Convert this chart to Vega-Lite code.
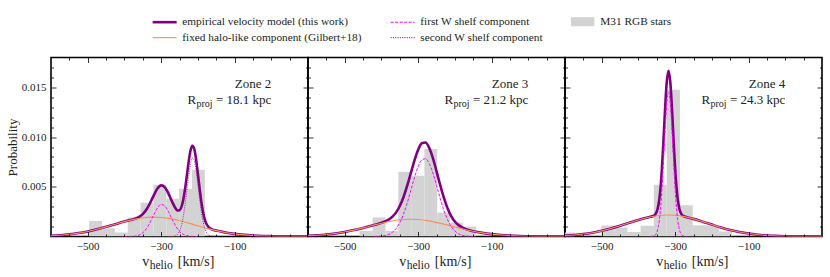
{
"$schema": "https://vega.github.io/schema/vega-lite/v6.json",
"padding": {"left": 5, "top": 15.5, "right": 5, "bottom": 5},
"config": {
 "font": "Liberation Serif",
 "view": {"stroke": "black", "strokeWidth": 1.6},
 "axis": {"labelFont": "Liberation Serif", "titleFont": "Liberation Serif", "labelColor": "#222", "titleColor": "#222", "tickColor": "black", "tickWidth": 0.8, "grid": false, "domain": false, "labelFontSize": 11},
 "text": {"font": "Liberation Serif", "color": "#222"}
},
"datasets": {
 "ann": [{"z": 2, "zone": "Zone 2", "rp": "= 18.1 kpc"}, {"z": 3, "zone": "Zone 3", "rp": "= 21.2 kpc"}, {"z": 4, "zone": "Zone 4", "rp": "= 24.3 kpc"}],
 "hist2": [{"x0": -496, "x1": -461, "p": 0.00157}, {"x0": -461, "x1": -426, "p": 0.00083}, {"x0": -426, "x1": -391, "p": 0.0004}, {"x0": -391, "x1": -356, "p": 0.0019}, {"x0": -356, "x1": -321, "p": 0.0034}, {"x0": -321, "x1": -286, "p": 0.0052}, {"x0": -286, "x1": -251, "p": 0.0038}, {"x0": -251, "x1": -216, "p": 0.0048}, {"x0": -216, "x1": -181, "p": 0.0067}],
 "hist3": [{"x0": -460, "x1": -424, "p": 0.00056}, {"x0": -424, "x1": -389, "p": 0.0019}, {"x0": -389, "x1": -354, "p": 0.00056}, {"x0": -354, "x1": -319, "p": 0.0065}, {"x0": -319, "x1": -283, "p": 0.0061}, {"x0": -283, "x1": -248, "p": 0.0088}, {"x0": -248, "x1": -213, "p": 0.0024}, {"x0": -213, "x1": -178, "p": 0.0014}, {"x0": -178, "x1": -142, "p": 0.001}],
 "hist4": [{"x0": -608, "x1": -573, "p": 0.0004}, {"x0": -501, "x1": -465, "p": 0.0011}, {"x0": -465, "x1": -430, "p": 0.0009}, {"x0": -430, "x1": -394, "p": 0.00046}, {"x0": -394, "x1": -358, "p": 0.00107}, {"x0": -358, "x1": -323, "p": 0.0052}, {"x0": -323, "x1": -287, "p": 0.01475}, {"x0": -287, "x1": -252, "p": 0.00315}, {"x0": -252, "x1": -216, "p": 0.00114}, {"x0": -216, "x1": -180, "p": 0.0011}, {"x0": -180, "x1": -145, "p": 0.0005}],
 "h2": [{"v": -600, "p": 0.0000764}, {"v": -575, "p": 0.0001328}, {"v": -550, "p": 0.0002192}, {"v": -525, "p": 0.0003434}, {"v": -500, "p": 0.0005113}, {"v": -475, "p": 0.0007225}, {"v": -450, "p": 0.00097}, {"v": -425, "p": 0.0012365}, {"v": -400, "p": 0.0014968}, {"v": -375, "p": 0.0017209}, {"v": -350, "p": 0.0018788}, {"v": -325, "p": 0.001948}, {"v": -300, "p": 0.001918}, {"v": -275, "p": 0.0017934}, {"v": -250, "p": 0.0015926}, {"v": -225, "p": 0.001343}, {"v": -200, "p": 0.0010756}, {"v": -175, "p": 0.000818}, {"v": -150, "p": 0.0005907}, {"v": -125, "p": 0.0004052}, {"v": -100, "p": 0.0002638}, {"v": -75, "p": 0.0001632}, {"v": -50, "p": 0.0000959}, {"v": -25, "p": 0.0000534}, {"v": 0, "p": 0.0000283}, {"v": 25, "p": 0.0000142}, {"v": 50, "p": 0.0000068}, {"v": 75, "p": 0.0000031}, {"v": 100, "p": 0.0000013}],
 "h3": [{"v": -600, "p": 0.0000682}, {"v": -575, "p": 0.0001185}, {"v": -550, "p": 0.0001956}, {"v": -525, "p": 0.0003064}, {"v": -500, "p": 0.0004562}, {"v": -475, "p": 0.0006447}, {"v": -450, "p": 0.0008655}, {"v": -425, "p": 0.0011033}, {"v": -400, "p": 0.0013356}, {"v": -375, "p": 0.0015356}, {"v": -350, "p": 0.0016765}, {"v": -325, "p": 0.0017383}, {"v": -300, "p": 0.0017115}, {"v": -275, "p": 0.0016003}, {"v": -250, "p": 0.0014211}, {"v": -225, "p": 0.0011983}, {"v": -200, "p": 0.0009598}, {"v": -175, "p": 0.0007299}, {"v": -150, "p": 0.000527}, {"v": -125, "p": 0.0003616}, {"v": -100, "p": 0.0002354}, {"v": -75, "p": 0.0001456}, {"v": -50, "p": 0.0000856}, {"v": -25, "p": 0.0000477}, {"v": 0, "p": 0.0000252}, {"v": 25, "p": 0.0000127}, {"v": 50, "p": 0.0000061}, {"v": 75, "p": 0.0000027}, {"v": 100, "p": 0.0000012}],
 "h4": [{"v": -600, "p": 0.0000851}, {"v": -575, "p": 0.0001478}, {"v": -550, "p": 0.0002439}, {"v": -525, "p": 0.0003821}, {"v": -500, "p": 0.000569}, {"v": -475, "p": 0.000804}, {"v": -450, "p": 0.0010794}, {"v": -425, "p": 0.001376}, {"v": -400, "p": 0.0016657}, {"v": -375, "p": 0.001915}, {"v": -350, "p": 0.0020908}, {"v": -325, "p": 0.0021678}, {"v": -300, "p": 0.0021344}, {"v": -275, "p": 0.0019957}, {"v": -250, "p": 0.0017722}, {"v": -225, "p": 0.0014945}, {"v": -200, "p": 0.001197}, {"v": -175, "p": 0.0009103}, {"v": -150, "p": 0.0006573}, {"v": -125, "p": 0.0004509}, {"v": -100, "p": 0.0002936}, {"v": -75, "p": 0.0001816}, {"v": -50, "p": 0.0001068}, {"v": -25, "p": 0.0000595}, {"v": 0, "p": 0.0000315}, {"v": 25, "p": 0.0000158}, {"v": 50, "p": 0.0000076}, {"v": 75, "p": 0.0000034}, {"v": 100, "p": 0.0000015}],
 "t2": [{"v": -600, "p": 0.0000764}, {"v": -575, "p": 0.0001328}, {"v": -550, "p": 0.0002192}, {"v": -525, "p": 0.0003434}, {"v": -500, "p": 0.0005113}, {"v": -475, "p": 0.0007225}, {"v": -450, "p": 0.00097}, {"v": -425, "p": 0.0012365}, {"v": -400, "p": 0.0014976}, {"v": -390, "p": 0.0015963}, {"v": -380, "p": 0.0016954}, {"v": -370, "p": 0.0018098}, {"v": -360, "p": 0.0019744}, {"v": -350, "p": 0.0022503}, {"v": -340, "p": 0.0027058}, {"v": -330, "p": 0.0033658}, {"v": -320, "p": 0.0041432}, {"v": -310, "p": 0.0048206}, {"v": -300, "p": 0.0051377}, {"v": -290, "p": 0.0049476}, {"v": -280, "p": 0.0043187}, {"v": -270, "p": 0.0034953}, {"v": -260, "p": 0.0027942}, {"v": -255, "p": 0.0026115}, {"v": -250, "p": 0.0026348}, {"v": -245, "p": 0.0029535}, {"v": -240, "p": 0.0036481}, {"v": -235, "p": 0.0047338}, {"v": -230, "p": 0.0061092}, {"v": -225, "p": 0.0075284}, {"v": -220, "p": 0.0086436}, {"v": -215, "p": 0.0091329}, {"v": -210, "p": 0.0088302}, {"v": -205, "p": 0.007805}, {"v": -200, "p": 0.006329}, {"v": -195, "p": 0.0047465}, {"v": -190, "p": 0.0033495}, {"v": -185, "p": 0.0022882}, {"v": -180, "p": 0.0015786}, {"v": -170, "p": 0.0009093}, {"v": -160, "p": 0.0006952}, {"v": -150, "p": 0.0005923}, {"v": -125, "p": 0.0004052}, {"v": -100, "p": 0.0002638}, {"v": -75, "p": 0.0001632}, {"v": -50, "p": 0.0000959}, {"v": -25, "p": 0.0000534}, {"v": 0, "p": 0.0000283}, {"v": 25, "p": 0.0000142}, {"v": 50, "p": 0.0000068}, {"v": 75, "p": 0.0000031}, {"v": 100, "p": 0.0000013}],
 "t3": [{"v": -600, "p": 0.0000682}, {"v": -575, "p": 0.0001185}, {"v": -550, "p": 0.0001956}, {"v": -525, "p": 0.0003064}, {"v": -500, "p": 0.0004562}, {"v": -475, "p": 0.0006447}, {"v": -450, "p": 0.0008655}, {"v": -425, "p": 0.0011066}, {"v": -420, "p": 0.0011566}, {"v": -410, "p": 0.0012606}, {"v": -400, "p": 0.0013755}, {"v": -390, "p": 0.0015157}, {"v": -380, "p": 0.0017077}, {"v": -370, "p": 0.0019927}, {"v": -360, "p": 0.0024254}, {"v": -350, "p": 0.0030652}, {"v": -340, "p": 0.0039527}, {"v": -330, "p": 0.0050809}, {"v": -320, "p": 0.0063691}, {"v": -310, "p": 0.0076581}, {"v": -300, "p": 0.0087333}, {"v": -290, "p": 0.0093797}, {"v": -280, "p": 0.0094511}, {"v": -270, "p": 0.008924}, {"v": -260, "p": 0.0079004}, {"v": -250, "p": 0.0065785}, {"v": -240, "p": 0.0051821}, {"v": -230, "p": 0.0039007}, {"v": -220, "p": 0.002849}, {"v": -210, "p": 0.0020601}, {"v": -200, "p": 0.0015101}, {"v": -190, "p": 0.0011442}, {"v": -180, "p": 0.000905}, {"v": -170, "p": 0.0007435}, {"v": -160, "p": 0.000627}, {"v": -150, "p": 0.0005356}, {"v": -125, "p": 0.0003621}, {"v": -100, "p": 0.0002354}, {"v": -75, "p": 0.0001456}, {"v": -50, "p": 0.0000856}, {"v": -25, "p": 0.0000477}, {"v": 0, "p": 0.0000252}, {"v": 25, "p": 0.0000127}, {"v": 50, "p": 0.0000061}, {"v": 75, "p": 0.0000027}, {"v": 100, "p": 0.0000012}],
 "t4": [{"v": -600, "p": 0.0000851}, {"v": -575, "p": 0.0001478}, {"v": -550, "p": 0.0002439}, {"v": -525, "p": 0.0003821}, {"v": -500, "p": 0.000569}, {"v": -475, "p": 0.000804}, {"v": -450, "p": 0.0010794}, {"v": -425, "p": 0.001376}, {"v": -400, "p": 0.0016657}, {"v": -375, "p": 0.001915}, {"v": -368, "p": 0.0019755}, {"v": -358, "p": 0.0021001}, {"v": -353, "p": 0.0022807}, {"v": -348, "p": 0.0027379}, {"v": -343, "p": 0.003779}, {"v": -338, "p": 0.0057574}, {"v": -333, "p": 0.0087929}, {"v": -328, "p": 0.01241}, {"v": -323, "p": 0.0154641}, {"v": -318, "p": 0.0166696}, {"v": -313, "p": 0.0154607}, {"v": -308, "p": 0.0124028}, {"v": -303, "p": 0.0087823}, {"v": -298, "p": 0.0057433}, {"v": -293, "p": 0.0037615}, {"v": -288, "p": 0.0027171}, {"v": -283, "p": 0.0022569}, {"v": -278, "p": 0.0020736}, {"v": -268, "p": 0.0019432}, {"v": -250, "p": 0.0017722}, {"v": -225, "p": 0.0014945}, {"v": -200, "p": 0.001197}, {"v": -175, "p": 0.0009103}, {"v": -150, "p": 0.0006573}, {"v": -125, "p": 0.0004509}, {"v": -100, "p": 0.0002936}, {"v": -75, "p": 0.0001816}, {"v": -50, "p": 0.0001068}, {"v": -25, "p": 0.0000595}, {"v": 0, "p": 0.0000315}, {"v": 25, "p": 0.0000158}, {"v": 50, "p": 0.0000076}, {"v": 75, "p": 0.0000034}, {"v": 100, "p": 0.0000015}],
 "a2": [{"v": -400, "p": 0.0000008}, {"v": -390, "p": 0.0000037}, {"v": -380, "p": 0.0000149}, {"v": -370, "p": 0.0000511}, {"v": -360, "p": 0.0001492}, {"v": -350, "p": 0.0003715}, {"v": -340, "p": 0.0007878}, {"v": -330, "p": 0.0014238}, {"v": -320, "p": 0.0021932}, {"v": -310, "p": 0.0028786}, {"v": -300, "p": 0.0032197}, {"v": -290, "p": 0.0030688}, {"v": -280, "p": 0.0024926}, {"v": -270, "p": 0.0017251}, {"v": -260, "p": 0.0010175}, {"v": -250, "p": 0.0005113}, {"v": -240, "p": 0.000219}, {"v": -230, "p": 0.0000799}, {"v": -220, "p": 0.0000249}, {"v": -210, "p": 0.0000066}, {"v": -200, "p": 0.0000015}],
 "b2": [{"v": -280, "p": 0.0000009}, {"v": -270, "p": 0.0000115}, {"v": -260, "p": 0.0000962}, {"v": -250, "p": 0.0005309}, {"v": -245, "p": 0.0010665}, {"v": -240, "p": 0.0019323}, {"v": -235, "p": 0.0031521}, {"v": -230, "p": 0.0046341}, {"v": -225, "p": 0.0061399}, {"v": -220, "p": 0.0073288}, {"v": -215, "p": 0.0078834}, {"v": -210, "p": 0.0076409}, {"v": -205, "p": 0.0066731}, {"v": -200, "p": 0.0052519}, {"v": -195, "p": 0.0037241}, {"v": -190, "p": 0.0023795}, {"v": -185, "p": 0.0013699}, {"v": -180, "p": 0.000711}, {"v": -170, "p": 0.0001398}, {"v": -160, "p": 0.0000182}, {"v": -150, "p": 0.0000016}],
 "a3": [{"v": -420, "p": 0.0000056}, {"v": -410, "p": 0.0000156}, {"v": -400, "p": 0.0000399}, {"v": -390, "p": 0.0000947}, {"v": -380, "p": 0.0002082}, {"v": -370, "p": 0.0004234}, {"v": -360, "p": 0.0007968}, {"v": -350, "p": 0.0013887}, {"v": -340, "p": 0.0022412}, {"v": -330, "p": 0.003348}, {"v": -320, "p": 0.0046291}, {"v": -310, "p": 0.0059252}, {"v": -300, "p": 0.0070218}, {"v": -290, "p": 0.0077032}, {"v": -280, "p": 0.0078225}, {"v": -270, "p": 0.0073547}, {"v": -260, "p": 0.0064009}, {"v": -250, "p": 0.0051575}, {"v": -240, "p": 0.0038465}, {"v": -230, "p": 0.0026557}, {"v": -220, "p": 0.001698}, {"v": -210, "p": 0.0010048}, {"v": -200, "p": 0.0005503}, {"v": -190, "p": 0.0002787}, {"v": -180, "p": 0.0001309}, {"v": -170, "p": 0.0000569}, {"v": -160, "p": 0.0000229}, {"v": -150, "p": 0.0000086}],
 "a4": [{"v": -368, "p": 0.0000025}, {"v": -358, "p": 0.000056}, {"v": -353, "p": 0.0002062}, {"v": -348, "p": 0.0006371}, {"v": -343, "p": 0.0016559}, {"v": -338, "p": 0.0036163}, {"v": -333, "p": 0.0066381}, {"v": -328, "p": 0.0102457}, {"v": -323, "p": 0.013295}, {"v": -318, "p": 0.0145}, {"v": -313, "p": 0.013295}, {"v": -308, "p": 0.0102457}, {"v": -303, "p": 0.0066381}, {"v": -298, "p": 0.0036163}, {"v": -293, "p": 0.0016559}, {"v": -288, "p": 0.0006371}, {"v": -283, "p": 0.0002062}, {"v": -278, "p": 0.000056}, {"v": -268, "p": 0.0000025}]
},
"spacing": 0,
"bounds": "flush",
"hconcat": [
 {
  "width": 257, "height": 179,
  "resolve": {"axis": {"x": "independent", "y": "independent"}},
  "layer": [
   {"data": {"name": "hist2"}, "mark": {"type": "rect", "clip": true},
    "encoding": {
     "x": {"field": "x0", "type": "quantitative", "scale": {"domain": [-600, 100], "nice": false, "zero": false}, "axis": {"orient": "bottom", "values": [-500, -300, -100], "format": "d", "tickSize": -5, "labelPadding": 8.5, "title": null, "zindex": 1}},
     "x2": {"field": "x1"},
     "y": {"field": "p", "type": "quantitative", "scale": {"domain": [0, 0.018], "nice": false, "zero": false}, "axis": {"orient": "left", "values": [0.005, 0.01, 0.015], "format": ".3f", "tickSize": -5, "labelPadding": 10, "title": "Probability", "titleFontSize": 13, "titleFontWeight": "normal", "titlePadding": 2, "zindex": 1}},
     "y2": {"datum": 0},
     "color": {"datum": "M31 RGB stars", "type": "nominal",
      "scale": {"domain": ["empirical velocity model (this work)", "fixed halo-like component (Gilbert+18)", "first W shelf component", "second W shelf component", "M31 RGB stars"], "range": ["#800080", "#f98c5c", "#ff00ff", "#a020a0", "#d3d3d3"]},
      "legend": {"orient": "none", "legendX": 108, "legendY": -41.5, "columns": 3, "title": null, "symbolSize": 256, "labelFontSize": 11.3, "labelFont": "Liberation Serif", "labelColor": "#222", "labelOffset": 12, "labelLimit": 300, "columnPadding": 26, "rowPadding": 3, "padding": 0,
       "encode": {"symbols": {"update": {
        "shape": {"signal": "datum.value === 'M31 RGB stars' ? 'M-1.4,-0.5H1.4V0.5H-1.4Z' : 'M-1.5,0H1.5'"},
        "fill": {"signal": "datum.value === 'M31 RGB stars' ? '#d3d3d3' : 'transparent'"},
        "stroke": {"signal": "datum.value === 'empirical velocity model (this work)' ? '#800080' : datum.value === 'fixed halo-like component (Gilbert+18)' ? '#f98c5c' : datum.value === 'first W shelf component' ? '#ff00ff' : datum.value === 'second W shelf component' ? '#a020a0' : 'transparent'"},
        "strokeWidth": {"signal": "datum.value === 'empirical velocity model (this work)' ? 2.6 : 1.1"},
        "strokeDash": {"signal": "datum.value === 'first W shelf component' ? [3, 1.5] : datum.value === 'second W shelf component' ? [1, 1.3] : [100, 0]"},
        "opacity": {"value": 1}
       }}}}}
    }},
   {"data": {"name": "hist2"}, "mark": {"type": "point", "opacity": 0},
    "encoding": {
     "x": {"field": "x0", "type": "quantitative", "scale": {"domain": [-600, 100], "nice": false, "zero": false}, "axis": {"orient": "bottom", "values": [-550, -450, -400, -350, -250, -200, -150, -50, 0, 50], "labels": false, "tickSize": -2.5, "title": null, "zindex": 1}},
     "y": {"field": "p", "type": "quantitative", "scale": {"domain": [0, 0.018], "nice": false, "zero": false}, "axis": {"orient": "left", "values": [0.001, 0.002, 0.003, 0.004, 0.006, 0.007, 0.008, 0.009, 0.011, 0.012, 0.013, 0.014, 0.016, 0.017], "labels": false, "tickSize": -2.5, "title": null, "zindex": 1}}
    }},
   {"data": {"name": "hist2"}, "mark": {"type": "point", "opacity": 0},
    "encoding": {
     "x": {"field": "x0", "type": "quantitative", "scale": {"domain": [-600, 100], "nice": false, "zero": false}, "axis": {"orient": "top", "values": [-500, -300, -100], "labels": false, "tickSize": -5, "title": null, "zindex": 1}},
     "y": {"field": "p", "type": "quantitative", "scale": {"domain": [0, 0.018], "nice": false, "zero": false}, "axis": {"orient": "right", "values": [0.005, 0.01, 0.015], "labels": false, "tickSize": -5, "title": null, "zindex": 1}}
    }},
   {"data": {"name": "hist2"}, "mark": {"type": "point", "opacity": 0},
    "encoding": {
     "x": {"field": "x0", "type": "quantitative", "scale": {"domain": [-600, 100], "nice": false, "zero": false}, "axis": {"orient": "top", "values": [-550, -450, -400, -350, -250, -200, -150, -50, 0, 50], "labels": false, "tickSize": -2.5, "title": null, "zindex": 1}},
     "y": {"field": "p", "type": "quantitative", "scale": {"domain": [0, 0.018], "nice": false, "zero": false}, "axis": {"orient": "right", "values": [0.001, 0.002, 0.003, 0.004, 0.006, 0.007, 0.008, 0.009, 0.011, 0.012, 0.013, 0.014, 0.016, 0.017], "labels": false, "tickSize": -2.5, "title": null, "zindex": 1}}
    }},
   {"data": {"name": "t2"}, "mark": {"type": "line", "strokeWidth": 2.6, "interpolate": "monotone", "clip": true},
    "encoding": {"x": {"field": "v", "type": "quantitative", "axis": null}, "y": {"field": "p", "type": "quantitative", "axis": null}, "color": {"datum": "empirical velocity model (this work)", "type": "nominal"}}},
   {"data": {"name": "h2"}, "mark": {"type": "line", "strokeWidth": 1.1, "interpolate": "monotone", "clip": true},
    "encoding": {"x": {"field": "v", "type": "quantitative", "axis": null}, "y": {"field": "p", "type": "quantitative", "axis": null}, "color": {"datum": "fixed halo-like component (Gilbert+18)", "type": "nominal"}}},
   {"data": {"name": "a2"}, "mark": {"type": "line", "strokeWidth": 1, "strokeDash": [3, 1.5], "interpolate": "monotone", "clip": true},
    "encoding": {"x": {"field": "v", "type": "quantitative", "axis": null}, "y": {"field": "p", "type": "quantitative", "axis": null}, "color": {"datum": "first W shelf component", "type": "nominal"}}},
   {"data": {"name": "b2"}, "mark": {"type": "line", "strokeWidth": 1, "strokeDash": [1, 1.3], "interpolate": "monotone", "clip": true},
    "encoding": {"x": {"field": "v", "type": "quantitative", "axis": null}, "y": {"field": "p", "type": "quantitative", "axis": null}, "color": {"datum": "second W shelf component", "type": "nominal"}}},
   {"data": {"name": "ann"}, "transform": [{"filter": "datum.z == 2"}],
    "layer": [
     {"mark": {"type": "text", "align": "right", "baseline": "alphabetic", "fontSize": 13}, "encoding": {"x": {"datum": 0, "type": "quantitative", "axis": null}, "y": {"datum": 0.014923, "type": "quantitative", "axis": null}, "text": {"field": "zone"}}},
     {"mark": {"type": "text", "align": "right", "baseline": "alphabetic", "fontSize": 13}, "encoding": {"x": {"datum": 0, "type": "quantitative", "axis": null}, "y": {"datum": 0.013314, "type": "quantitative", "axis": null}, "text": {"field": "rp"}}},
     {"mark": {"type": "text", "align": "right", "baseline": "alphabetic", "fontSize": 10, "dx": -58.8, "dy": 2.5}, "encoding": {"x": {"datum": 0, "type": "quantitative", "axis": null}, "y": {"datum": 0.013314, "type": "quantitative", "axis": null}, "text": {"value": "proj"}}},
     {"mark": {"type": "text", "align": "right", "baseline": "alphabetic", "fontSize": 13, "dx": -75.2}, "encoding": {"x": {"datum": 0, "type": "quantitative", "axis": null}, "y": {"datum": 0.013314, "type": "quantitative", "axis": null}, "text": {"value": "R"}}},
     {"mark": {"type": "text", "align": "left", "baseline": "alphabetic", "fontSize": 14}, "encoding": {"x": {"datum": -254.8, "type": "quantitative", "axis": null}, "y": {"datum": -0.002936, "type": "quantitative", "axis": null}, "text": {"value": "[km/s]"}}},
     {"mark": {"type": "text", "align": "right", "baseline": "alphabetic", "fontSize": 11.5, "dx": -5, "dy": 3}, "encoding": {"x": {"datum": -254.8, "type": "quantitative", "axis": null}, "y": {"datum": -0.002936, "type": "quantitative", "axis": null}, "text": {"value": "helio"}}},
     {"mark": {"type": "text", "align": "right", "baseline": "alphabetic", "fontSize": 14, "dx": -28.5}, "encoding": {"x": {"datum": -254.8, "type": "quantitative", "axis": null}, "y": {"datum": -0.002936, "type": "quantitative", "axis": null}, "text": {"value": "v"}}}
    ]}
  ]
 },
 {
  "width": 257, "height": 179,
  "resolve": {"axis": {"x": "independent", "y": "independent"}},
  "layer": [
   {"data": {"name": "hist3"}, "mark": {"type": "rect", "clip": true},
    "encoding": {
     "x": {"field": "x0", "type": "quantitative", "scale": {"domain": [-600, 100], "nice": false, "zero": false}, "axis": {"orient": "bottom", "values": [-500, -300, -100], "format": "d", "tickSize": -5, "labelPadding": 8.5, "title": null, "zindex": 1}},
     "x2": {"field": "x1"},
     "y": {"field": "p", "type": "quantitative", "scale": {"domain": [0, 0.018], "nice": false, "zero": false}, "axis": {"orient": "left", "values": [0.005, 0.01, 0.015], "labels": false, "tickSize": -5, "title": null, "zindex": 1}},
     "y2": {"datum": 0},
     "color": {"datum": "M31 RGB stars", "type": "nominal"}
    }},
   {"data": {"name": "hist3"}, "mark": {"type": "point", "opacity": 0},
    "encoding": {
     "x": {"field": "x0", "type": "quantitative", "scale": {"domain": [-600, 100], "nice": false, "zero": false}, "axis": {"orient": "bottom", "values": [-550, -450, -400, -350, -250, -200, -150, -50, 0, 50], "labels": false, "tickSize": -2.5, "title": null, "zindex": 1}},
     "y": {"field": "p", "type": "quantitative", "scale": {"domain": [0, 0.018], "nice": false, "zero": false}, "axis": {"orient": "left", "values": [0.001, 0.002, 0.003, 0.004, 0.006, 0.007, 0.008, 0.009, 0.011, 0.012, 0.013, 0.014, 0.016, 0.017], "labels": false, "tickSize": -2.5, "title": null, "zindex": 1}}
    }},
   {"data": {"name": "hist3"}, "mark": {"type": "point", "opacity": 0},
    "encoding": {
     "x": {"field": "x0", "type": "quantitative", "scale": {"domain": [-600, 100], "nice": false, "zero": false}, "axis": {"orient": "top", "values": [-500, -300, -100], "labels": false, "tickSize": -5, "title": null, "zindex": 1}},
     "y": {"field": "p", "type": "quantitative", "scale": {"domain": [0, 0.018], "nice": false, "zero": false}, "axis": {"orient": "right", "values": [0.005, 0.01, 0.015], "labels": false, "tickSize": -5, "title": null, "zindex": 1}}
    }},
   {"data": {"name": "hist3"}, "mark": {"type": "point", "opacity": 0},
    "encoding": {
     "x": {"field": "x0", "type": "quantitative", "scale": {"domain": [-600, 100], "nice": false, "zero": false}, "axis": {"orient": "top", "values": [-550, -450, -400, -350, -250, -200, -150, -50, 0, 50], "labels": false, "tickSize": -2.5, "title": null, "zindex": 1}},
     "y": {"field": "p", "type": "quantitative", "scale": {"domain": [0, 0.018], "nice": false, "zero": false}, "axis": {"orient": "right", "values": [0.001, 0.002, 0.003, 0.004, 0.006, 0.007, 0.008, 0.009, 0.011, 0.012, 0.013, 0.014, 0.016, 0.017], "labels": false, "tickSize": -2.5, "title": null, "zindex": 1}}
    }},
   {"data": {"name": "t3"}, "mark": {"type": "line", "strokeWidth": 2.6, "interpolate": "monotone", "clip": true},
    "encoding": {"x": {"field": "v", "type": "quantitative", "axis": null}, "y": {"field": "p", "type": "quantitative", "axis": null}, "color": {"datum": "empirical velocity model (this work)", "type": "nominal"}}},
   {"data": {"name": "h3"}, "mark": {"type": "line", "strokeWidth": 1.1, "interpolate": "monotone", "clip": true},
    "encoding": {"x": {"field": "v", "type": "quantitative", "axis": null}, "y": {"field": "p", "type": "quantitative", "axis": null}, "color": {"datum": "fixed halo-like component (Gilbert+18)", "type": "nominal"}}},
   {"data": {"name": "a3"}, "mark": {"type": "line", "strokeWidth": 1, "strokeDash": [3, 1.5], "interpolate": "monotone", "clip": true},
    "encoding": {"x": {"field": "v", "type": "quantitative", "axis": null}, "y": {"field": "p", "type": "quantitative", "axis": null}, "color": {"datum": "first W shelf component", "type": "nominal"}}},
   {"data": {"name": "ann"}, "transform": [{"filter": "datum.z == 3"}],
    "layer": [
     {"mark": {"type": "text", "align": "right", "baseline": "alphabetic", "fontSize": 13}, "encoding": {"x": {"datum": 0, "type": "quantitative", "axis": null}, "y": {"datum": 0.014923, "type": "quantitative", "axis": null}, "text": {"field": "zone"}}},
     {"mark": {"type": "text", "align": "right", "baseline": "alphabetic", "fontSize": 13}, "encoding": {"x": {"datum": 0, "type": "quantitative", "axis": null}, "y": {"datum": 0.013314, "type": "quantitative", "axis": null}, "text": {"field": "rp"}}},
     {"mark": {"type": "text", "align": "right", "baseline": "alphabetic", "fontSize": 10, "dx": -58.8, "dy": 2.5}, "encoding": {"x": {"datum": 0, "type": "quantitative", "axis": null}, "y": {"datum": 0.013314, "type": "quantitative", "axis": null}, "text": {"value": "proj"}}},
     {"mark": {"type": "text", "align": "right", "baseline": "alphabetic", "fontSize": 13, "dx": -75.2}, "encoding": {"x": {"datum": 0, "type": "quantitative", "axis": null}, "y": {"datum": 0.013314, "type": "quantitative", "axis": null}, "text": {"value": "R"}}},
     {"mark": {"type": "text", "align": "left", "baseline": "alphabetic", "fontSize": 14}, "encoding": {"x": {"datum": -254.8, "type": "quantitative", "axis": null}, "y": {"datum": -0.002936, "type": "quantitative", "axis": null}, "text": {"value": "[km/s]"}}},
     {"mark": {"type": "text", "align": "right", "baseline": "alphabetic", "fontSize": 11.5, "dx": -5, "dy": 3}, "encoding": {"x": {"datum": -254.8, "type": "quantitative", "axis": null}, "y": {"datum": -0.002936, "type": "quantitative", "axis": null}, "text": {"value": "helio"}}},
     {"mark": {"type": "text", "align": "right", "baseline": "alphabetic", "fontSize": 14, "dx": -28.5}, "encoding": {"x": {"datum": -254.8, "type": "quantitative", "axis": null}, "y": {"datum": -0.002936, "type": "quantitative", "axis": null}, "text": {"value": "v"}}}
    ]}
  ]
 },
 {
  "width": 257, "height": 179,
  "resolve": {"axis": {"x": "independent", "y": "independent"}},
  "layer": [
   {"data": {"name": "hist4"}, "mark": {"type": "rect", "clip": true},
    "encoding": {
     "x": {"field": "x0", "type": "quantitative", "scale": {"domain": [-600, 100], "nice": false, "zero": false}, "axis": {"orient": "bottom", "values": [-500, -300, -100], "format": "d", "tickSize": -5, "labelPadding": 8.5, "title": null, "zindex": 1}},
     "x2": {"field": "x1"},
     "y": {"field": "p", "type": "quantitative", "scale": {"domain": [0, 0.018], "nice": false, "zero": false}, "axis": {"orient": "left", "values": [0.005, 0.01, 0.015], "labels": false, "tickSize": -5, "title": null, "zindex": 1}},
     "y2": {"datum": 0},
     "color": {"datum": "M31 RGB stars", "type": "nominal"}
    }},
   {"data": {"name": "hist4"}, "mark": {"type": "point", "opacity": 0},
    "encoding": {
     "x": {"field": "x0", "type": "quantitative", "scale": {"domain": [-600, 100], "nice": false, "zero": false}, "axis": {"orient": "bottom", "values": [-550, -450, -400, -350, -250, -200, -150, -50, 0, 50], "labels": false, "tickSize": -2.5, "title": null, "zindex": 1}},
     "y": {"field": "p", "type": "quantitative", "scale": {"domain": [0, 0.018], "nice": false, "zero": false}, "axis": {"orient": "left", "values": [0.001, 0.002, 0.003, 0.004, 0.006, 0.007, 0.008, 0.009, 0.011, 0.012, 0.013, 0.014, 0.016, 0.017], "labels": false, "tickSize": -2.5, "title": null, "zindex": 1}}
    }},
   {"data": {"name": "hist4"}, "mark": {"type": "point", "opacity": 0},
    "encoding": {
     "x": {"field": "x0", "type": "quantitative", "scale": {"domain": [-600, 100], "nice": false, "zero": false}, "axis": {"orient": "top", "values": [-500, -300, -100], "labels": false, "tickSize": -5, "title": null, "zindex": 1}},
     "y": {"field": "p", "type": "quantitative", "scale": {"domain": [0, 0.018], "nice": false, "zero": false}, "axis": {"orient": "right", "values": [0.005, 0.01, 0.015], "labels": false, "tickSize": -5, "title": null, "zindex": 1}}
    }},
   {"data": {"name": "hist4"}, "mark": {"type": "point", "opacity": 0},
    "encoding": {
     "x": {"field": "x0", "type": "quantitative", "scale": {"domain": [-600, 100], "nice": false, "zero": false}, "axis": {"orient": "top", "values": [-550, -450, -400, -350, -250, -200, -150, -50, 0, 50], "labels": false, "tickSize": -2.5, "title": null, "zindex": 1}},
     "y": {"field": "p", "type": "quantitative", "scale": {"domain": [0, 0.018], "nice": false, "zero": false}, "axis": {"orient": "right", "values": [0.001, 0.002, 0.003, 0.004, 0.006, 0.007, 0.008, 0.009, 0.011, 0.012, 0.013, 0.014, 0.016, 0.017], "labels": false, "tickSize": -2.5, "title": null, "zindex": 1}}
    }},
   {"data": {"name": "t4"}, "mark": {"type": "line", "strokeWidth": 2.6, "interpolate": "monotone", "clip": true},
    "encoding": {"x": {"field": "v", "type": "quantitative", "axis": null}, "y": {"field": "p", "type": "quantitative", "axis": null}, "color": {"datum": "empirical velocity model (this work)", "type": "nominal"}}},
   {"data": {"name": "h4"}, "mark": {"type": "line", "strokeWidth": 1.1, "interpolate": "monotone", "clip": true},
    "encoding": {"x": {"field": "v", "type": "quantitative", "axis": null}, "y": {"field": "p", "type": "quantitative", "axis": null}, "color": {"datum": "fixed halo-like component (Gilbert+18)", "type": "nominal"}}},
   {"data": {"name": "a4"}, "mark": {"type": "line", "strokeWidth": 1, "strokeDash": [3, 1.5], "interpolate": "monotone", "clip": true},
    "encoding": {"x": {"field": "v", "type": "quantitative", "axis": null}, "y": {"field": "p", "type": "quantitative", "axis": null}, "color": {"datum": "first W shelf component", "type": "nominal"}}},
   {"data": {"name": "ann"}, "transform": [{"filter": "datum.z == 4"}],
    "layer": [
     {"mark": {"type": "text", "align": "right", "baseline": "alphabetic", "fontSize": 13}, "encoding": {"x": {"datum": 0, "type": "quantitative", "axis": null}, "y": {"datum": 0.014923, "type": "quantitative", "axis": null}, "text": {"field": "zone"}}},
     {"mark": {"type": "text", "align": "right", "baseline": "alphabetic", "fontSize": 13}, "encoding": {"x": {"datum": 0, "type": "quantitative", "axis": null}, "y": {"datum": 0.013314, "type": "quantitative", "axis": null}, "text": {"field": "rp"}}},
     {"mark": {"type": "text", "align": "right", "baseline": "alphabetic", "fontSize": 10, "dx": -58.8, "dy": 2.5}, "encoding": {"x": {"datum": 0, "type": "quantitative", "axis": null}, "y": {"datum": 0.013314, "type": "quantitative", "axis": null}, "text": {"value": "proj"}}},
     {"mark": {"type": "text", "align": "right", "baseline": "alphabetic", "fontSize": 13, "dx": -75.2}, "encoding": {"x": {"datum": 0, "type": "quantitative", "axis": null}, "y": {"datum": 0.013314, "type": "quantitative", "axis": null}, "text": {"value": "R"}}},
     {"mark": {"type": "text", "align": "left", "baseline": "alphabetic", "fontSize": 14}, "encoding": {"x": {"datum": -254.8, "type": "quantitative", "axis": null}, "y": {"datum": -0.002936, "type": "quantitative", "axis": null}, "text": {"value": "[km/s]"}}},
     {"mark": {"type": "text", "align": "right", "baseline": "alphabetic", "fontSize": 11.5, "dx": -5, "dy": 3}, "encoding": {"x": {"datum": -254.8, "type": "quantitative", "axis": null}, "y": {"datum": -0.002936, "type": "quantitative", "axis": null}, "text": {"value": "helio"}}},
     {"mark": {"type": "text", "align": "right", "baseline": "alphabetic", "fontSize": 14, "dx": -28.5}, "encoding": {"x": {"datum": -254.8, "type": "quantitative", "axis": null}, "y": {"datum": -0.002936, "type": "quantitative", "axis": null}, "text": {"value": "v"}}}
    ]}
  ]
 }
]
}
